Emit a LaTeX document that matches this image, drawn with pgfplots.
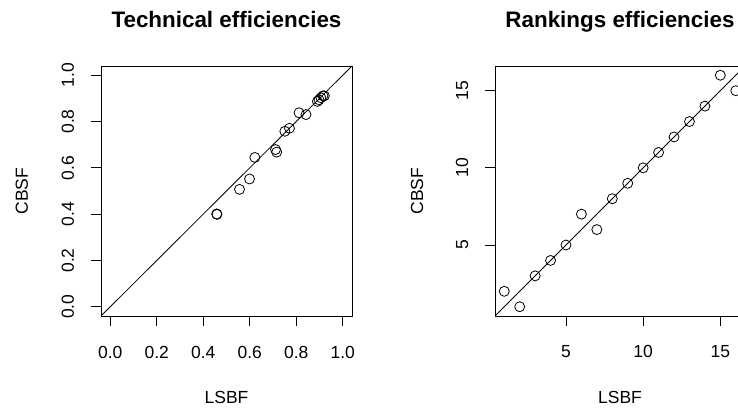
\documentclass[border=0pt]{standalone}
\usepackage{pgfplots}
\pgfplotsset{compat=1.18}
\usepackage{fontspec}
\setmainfont{Liberation Sans}

\pgfplotsset{rstyle/.style={
  scale only axis, height=250pt,
  anchor=south west,
  axis line style={line width=0.9pt},
  tick align=outside, xtick pos=bottom, ytick pos=left,
  major tick length=10pt,
  every tick/.style={black, line width=0.9pt},
  /pgf/number format/assume math mode=true,
  tick label style={font=\fontsize{17.5}{21}\selectfont},
  xticklabel style={anchor=base},
  yticklabel style={rotate=90, anchor=base},
  xticklabel shift=32pt,
  yticklabel shift=17pt,
  label style={font=\fontsize{17.5}{21}\selectfont},
  xlabel style={at={(axis description cs:0.5,0)}, anchor=base, yshift=-88pt},
  title style={at={(axis description cs:0.5,1)}, anchor=base, yshift=32pt,
               font=\fontsize{22.4}{27}\selectfont\bfseries},
  clip=true,
}}

\begin{document}
\begin{tikzpicture}
\begin{axis}[rstyle, at={(101pt,93pt)}, width=251pt,
  xmin=-0.04, xmax=1.04, ymin=-0.04, ymax=1.04,
  xtick={0,0.2,0.4,0.6,0.8,1.0}, xticklabels={0.0,0.2,0.4,0.6,0.8,1.0},
  ytick={0,0.2,0.4,0.6,0.8,1.0}, yticklabels={0.0,0.2,0.4,0.6,0.8,1.0},
  xlabel={LSBF}, ylabel={CBSF},
  ylabel style={at={(axis description cs:-0.291,0.5)}, anchor=base},
  title={Technical efficiencies}]
\addplot[black, line width=0.8pt] coordinates {(-0.04,-0.04) (1.04,1.04)};
\addplot[only marks, mark=o, mark size=5pt, mark options={line width=0.8pt}, black] coordinates {
(0.458,0.401) (0.459,0.399) (0.556,0.507) (0.599,0.552) (0.622,0.645)
(0.711,0.679) (0.716,0.668) (0.751,0.758) (0.771,0.771) (0.812,0.838)
(0.842,0.830) (0.891,0.887) (0.898,0.894) (0.906,0.903) (0.915,0.911) (0.921,0.911)
};
\end{axis}
\begin{axis}[rstyle, at={(495pt,93pt)}, width=250pt,
  xmin=0.4, xmax=16.6, ymin=0.4, ymax=16.6,
  xtick={5,10,15}, ytick={5,10,15},
  xticklabels={5,10,15}, yticklabels={5,10,15},
  xlabel={LSBF}, ylabel={CBSF},
  ylabel style={at={(axis description cs:-0.288,0.5)}, anchor=base},
  title={Rankings efficiencies}]
\addplot[black, line width=0.8pt] coordinates {(0.4,0.4) (16.6,16.6)};
\addplot[only marks, mark=o, mark size=5pt, mark options={line width=0.8pt}, black] coordinates {
(1,2) (2,1) (3,3) (4,4) (5,5) (6,7) (7,6) (8,8) (9,9) (10,10)
(11,11) (12,12) (13,13) (14,14) (15,16) (16,15)
};
\end{axis}
\pgfresetboundingbox
\path[use as bounding box] (0,0) rectangle (738pt,409pt);
\end{tikzpicture}
\end{document}
